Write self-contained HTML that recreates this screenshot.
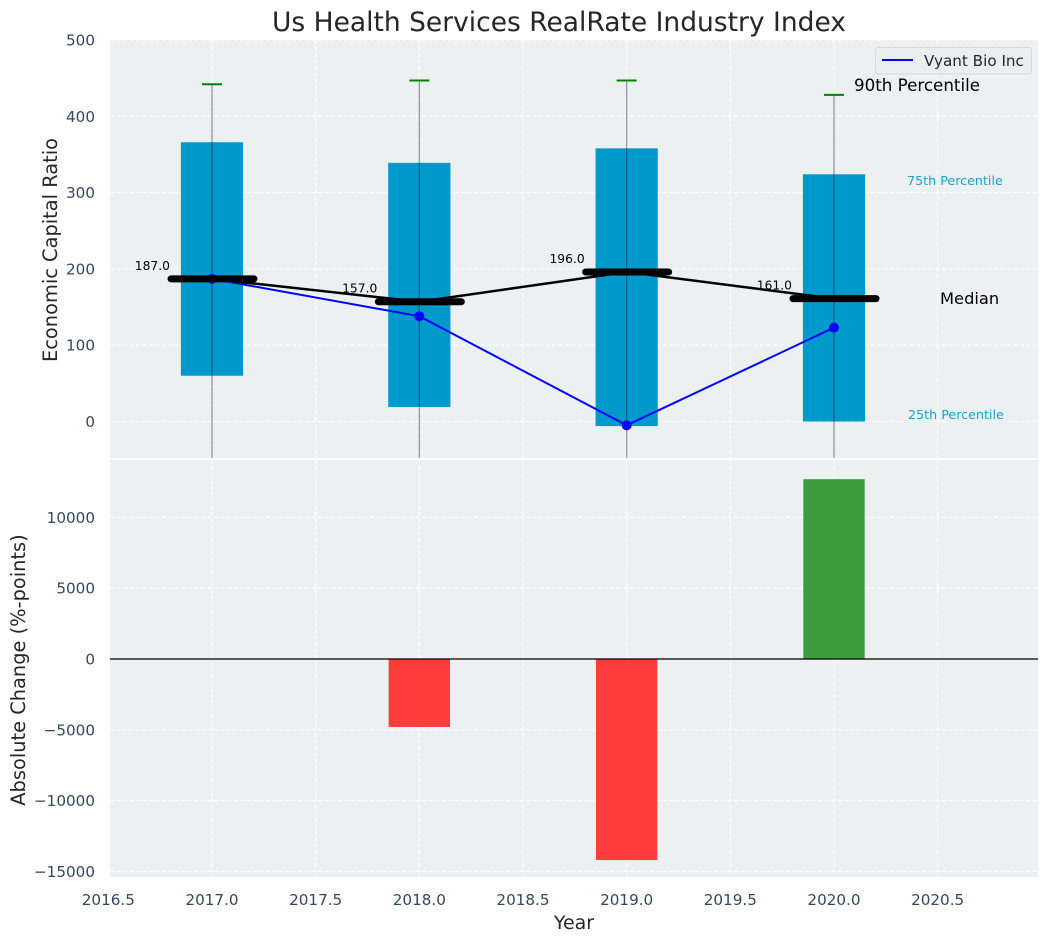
<!DOCTYPE html>
<html lang="en">
<head>
<meta charset="utf-8">
<title>Us Health Services RealRate Industry Index</title>
<style>
html,body{margin:0;padding:0;background:#fff;}
svg{display:block;font-family:"DejaVu Sans","Liberation Sans",sans-serif;}
</style>
</head>
<body>
<svg id="chart" xmlns="http://www.w3.org/2000/svg" width="1048" height="942" viewBox="0 0 1048 942">
  <defs>
    <clipPath id="clip-top"><rect x="110" y="40" width="928" height="418"/></clipPath>
    <clipPath id="clip-bottom"><rect x="110" y="460" width="928" height="417"/></clipPath>
  </defs>
  <rect x="110" y="40" width="928" height="418" fill="#ecf0f1"/>
  <rect x="110" y="460" width="928" height="417" fill="#ecf0f1"/>
  <g id="grid"></g>
  <g id="top-marks" clip-path="url(#clip-top)"></g>
  <g id="bottom-marks" clip-path="url(#clip-bottom)"></g>
  <g id="ticks" font-size="15.2" fill="#34495e"></g>
  <g id="value-labels" font-size="12.3" fill="#000"></g>

  <text x="559" y="31" font-size="26.5" text-anchor="middle" fill="#262626">Us Health Services RealRate Industry Index</text>
  <text transform="translate(57,250) rotate(-90)" font-size="19.400" text-anchor="middle" fill="#262626">Economic Capital Ratio</text>
  <text transform="translate(25,670) rotate(-90)" font-size="19.400" text-anchor="middle" fill="#262626">Absolute Change (%-points)</text>
  <text x="574" y="929" font-size="19" text-anchor="middle" fill="#262626">Year</text>

  <text x="854" y="91" font-size="16.7" fill="#000">90th Percentile</text>
  <text x="907" y="185" font-size="12.7" fill="#0099cc" fill-opacity="0.9">75th Percentile</text>
  <text x="940" y="304" font-size="16.3" fill="#000">Median</text>
  <text x="908" y="419" font-size="12.7" fill="#0099cc" fill-opacity="0.9">25th Percentile</text>

  <g>
    <rect x="875.5" y="47.5" width="156" height="26.500" rx="3" fill="#ecedf1" stroke="#d5d7da"/>
    <line x1="882" y1="60" x2="913" y2="60" stroke="#0000ff" stroke-width="2"/>
    <text x="924" y="66" font-size="15.2" fill="#262626">Vyant Bio Inc</text>
  </g>
</svg>
<script>
const years = [2017, 2018, 2019, 2020];
const p25 = [60, 19, -6, 0];
const p75 = [366, 339, 358, 324];
const p90 = [442, 447, 447, 428];
const p10 = [-70, -80, -90, -80];
const medians = [187, 157, 196, 161];
const company = [187, 138, -5, 123];
const changeYears = [2018, 2019, 2020];
const changes = [-4800, -14200, 12700];
const xTicks = [2016.5, 2017, 2017.5, 2018, 2018.5, 2019, 2019.5, 2020, 2020.5];
const yTicksTop = [0, 100, 200, 300, 400, 500];
const yTicksBottom = [-15000, -10000, -5000, 0, 5000, 10000];

const NS = 'http://www.w3.org/2000/svg';
const xScale = v => 212 + (v - 2017) * 207.33;
const yTop = v => 421.5 - v * 0.763;
const yBottom = v => 659 - v * 0.01416;

function make(tag, parent, attrs) {
  const el = document.createElementNS(NS, tag);
  for (const k in attrs) el.setAttribute(k, attrs[k]);
  parent.appendChild(el);
  return el;
}
const grid = document.getElementById('grid');
const ticks = document.getElementById('ticks');
const topMarks = document.getElementById('top-marks');
const bottomMarks = document.getElementById('bottom-marks');
const valueLabels = document.getElementById('value-labels');
const gridStyle = {stroke: '#ffffff', 'stroke-width': 1.1, 'stroke-dasharray': '4 2.5', fill: 'none'};

xTicks.forEach(t => {
  const x = xScale(t);
  if (x >= 110) {
    const a = make('line', grid, Object.assign({x1: x, x2: x, y1: 40, y2: 458}, gridStyle));
    
    
    const b = make('line', grid, Object.assign({x1: x, x2: x, y1: 460, y2: 877}, gridStyle));
    
    
  }
  const label = make('text', ticks, {x: x, y: 905, 'text-anchor': 'middle'});
  label.textContent = t.toFixed(1);
  
  
});

yTicksTop.forEach(t => {
  const y = yTop(t);
  const line = make('line', grid, Object.assign({x1: 110, x2: 1038, y1: y, y2: y}, gridStyle));
  
  
  const label = make('text', ticks, {x: 95, y: y + 5.5, 'text-anchor': 'end'});
  label.textContent = String(t);
  
  
});

yTicksBottom.forEach(t => {
  const y = yBottom(t);
  const line = make('line', grid, Object.assign({x1: 110, x2: 1038, y1: y, y2: y}, gridStyle));
  
  
  const label = make('text', ticks, {x: 95, y: y + 5.5, 'text-anchor': 'end'});
  label.textContent = String(t).replace('-', '\u2212');
  
  
});

years.forEach((yr, i) => {
  const bar = make('rect', topMarks, {x: xScale(yr - 0.15), width: xScale(yr + 0.15) - xScale(yr - 0.15), y: yTop(p75[i]), height: yTop(p25[i]) - yTop(p75[i]), fill: '#0099cc'});
  
  
});

years.forEach((yr, i) => {
  const whisker = make('line', topMarks, {x1: xScale(yr), x2: xScale(yr), y1: yTop(p90[i]), y2: yTop(p10[i]), stroke: '#000', 'stroke-opacity': 0.42, 'stroke-width': 1.2});
  
  
  const cap = make('line', topMarks, {x1: xScale(yr) - 10, x2: xScale(yr) + 10, y1: yTop(p90[i]), y2: yTop(p90[i]), stroke: '#008000', 'stroke-width': 2});
  
  
});

const companyLine = make('polyline', topMarks, {points: years.map((yr, i) => xScale(yr) + ',' + yTop(company[i])).join(' '), fill: 'none', stroke: '#0000ff', 'stroke-width': 2});


years.forEach((yr, i) => {
  const dot = make('circle', topMarks, {cx: xScale(yr), cy: yTop(company[i]), r: 5, fill: '#0000ff'});
  
  
});

const medianLine = make('polyline', topMarks, {points: years.map((yr, i) => xScale(yr) + ',' + yTop(medians[i])).join(' '), fill: 'none', stroke: '#000', 'stroke-width': 2.5});


years.forEach((yr, i) => {
  const tick = make('line', topMarks, {x1: xScale(yr) - 41, x2: xScale(yr) + 42, y1: yTop(medians[i]), y2: yTop(medians[i]), stroke: '#000', 'stroke-width': 7, 'stroke-linecap': 'round'});
  
  
  const label = make('text', valueLabels, {x: xScale(yr) - 42, y: yTop(medians[i]) - 9, 'text-anchor': 'end'});
  label.textContent = medians[i].toFixed(1);
  
  
});

changeYears.forEach((yr, i) => {
  const v = changes[i];
  const bar = make('rect', bottomMarks, {x: xScale(yr - 0.148), width: xScale(yr + 0.148) - xScale(yr - 0.148), y: Math.min(yBottom(v), yBottom(0)), height: Math.abs(yBottom(v) - yBottom(0)), fill: v < 0 ? '#ff3d3d' : '#3d9c3d'});
  
  
});
const zero = make('line', bottomMarks, {x1: 110, x2: 1038, y1: yBottom(0), y2: yBottom(0), stroke: '#000', 'stroke-width': 1.3});


</script>
</body>
</html>
